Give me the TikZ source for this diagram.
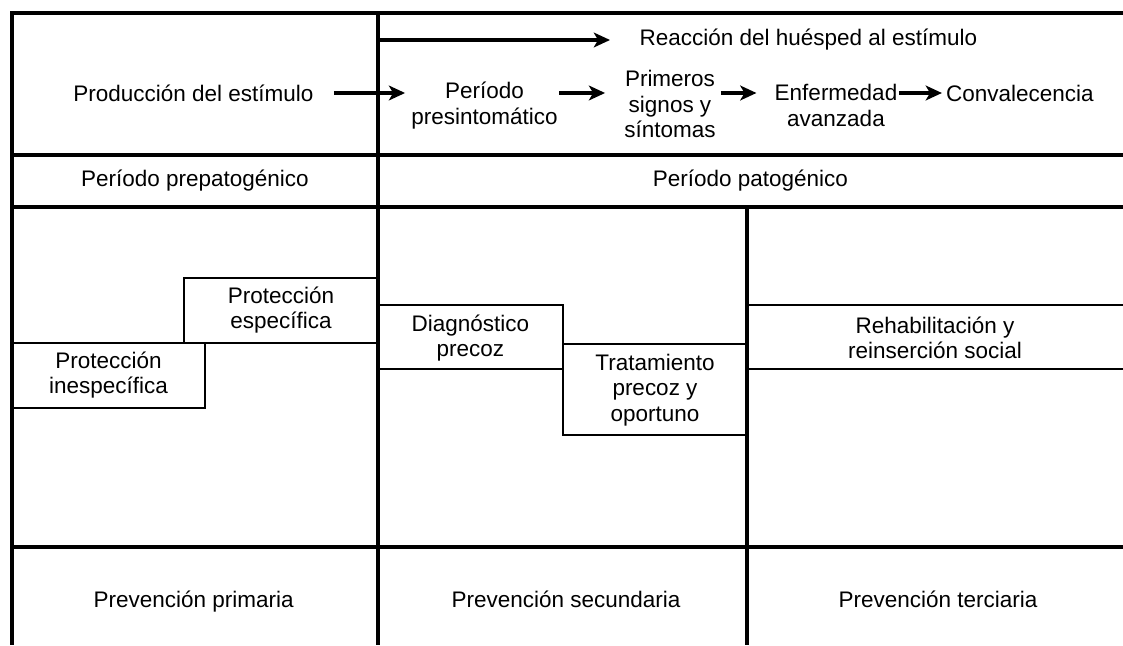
\documentclass[tikz,border=0pt]{standalone}
\usepackage{fontspec}
\setmainfont{Liberation Sans}
\usetikzlibrary{arrows.meta}

\begin{document}
\begin{tikzpicture}
	\tikzstyle{Thick} = [line width=2.8pt]
	\tikzstyle{Thin} = [line width=1.6pt]
	\tikzstyle{Arrow} = [line width=2.3pt,-{Stealth[length=11.5pt,width=10.5pt,inset=3pt]}]
	\tikzstyle{Txt} = [align=center,inner sep=1pt,font=\fontsize{16pt}{18.2pt}\selectfont]
	\useasboundingbox (0,0) rectangle (28.075,16.125);
	\draw[Thick] (28.075,15.8)--(0.3,15.8)--(0.3,0);
	\draw[Thick] (0.3,12.25)--(28.075,12.25);
	\draw[Thick] (0.3,10.95)--(28.075,10.95);
	\draw[Thick] (0.3,2.45)--(28.075,2.45);
	\draw[Thick] (9.45,15.8)--(9.45,0);
	\draw[Thick] (18.675,10.95)--(18.675,0);
	\draw[Thin] (0.3,7.55)--(9.45,7.55);
	\draw[Thin] (4.6,7.55)--(4.6,9.175)--(9.45,9.175);
	\draw[Thin] (5.125,7.55)--(5.125,5.925)--(0.3,5.925);
	\draw[Thin] (9.45,8.5)--(14.075,8.5)--(14.075,5.25)--(18.675,5.25);
	\draw[Thin] (9.45,6.9)--(14.075,6.9);
	\draw[Thin] (14.075,7.525)--(18.675,7.525);
	\draw[Thin] (18.675,8.5)--(28.075,8.5);
	\draw[Thin] (18.675,6.9)--(28.075,6.9);
	\node[Txt] (prod) at (4.8375,13.8) {Producción del estímulo};
	\node[Txt] (pres) at (12.1125,13.49) {Período\\presintomático};
	\node[Txt] (signos) at (16.75,13.525) {Primeros\\signos y\\síntomas};
	\node[Txt] (avanz) at (20.9,13.49) {Enfermedad\\avanzada};
	\node[Txt] (conv) at (25.5,13.8) {Convalecencia};
	\coordinate (inicio) at (9.45,15.125);
	\node[Txt,anchor=west] (reac) at (15.95,15.125) {Reacción del huésped al estímulo};
	\draw[Arrow,shorten >=0.7cm] (inicio)--(reac.west);
	\draw[Arrow,shorten <=0.465cm,shorten >=0.115cm] (prod.east)--(prod.east -| pres.west);
	\draw[Arrow,shorten >=0.44cm] (pres.east |- prod.east)--(signos.west |- prod.east);
	\draw[Arrow,shorten <=0.09cm,shorten >=0.415cm] (signos.east |- prod.east)--(avanz.west |- prod.east);
	\draw[Arrow,shorten >=0.065cm] (avanz.east |- prod.east)--(conv.west);
	\node[Txt] (prepat) at (4.875,11.6) {Período prepatogénico};
	\node[Txt] (pat) at (18.76,11.6) {Período patogénico};
	\node[Txt] (espec) at (7.025,8.375) {Protección\\específica};
	\node[Txt] (inesp) at (2.71,6.75) {Protección\\inespecífica};
	\node[Txt] (diag) at (11.76,7.675) {Diagnóstico\\precoz};
	\node[Txt] (trat) at (16.375,6.375) {Tratamiento\\precoz y\\oportuno};
	\node[Txt] (rehab) at (23.375,7.675) {Rehabilitación y\\reinserción social};
	\node[Txt,anchor=base] (prim) at (4.84,0.95) {Prevención primaria};
	\node[Txt,anchor=base] (sec) at (14.15,0.95) {Prevención secundaria};
	\node[Txt,anchor=base] (ter) at (23.45,0.95) {Prevención terciaria};
\end{tikzpicture}
\end{document}
